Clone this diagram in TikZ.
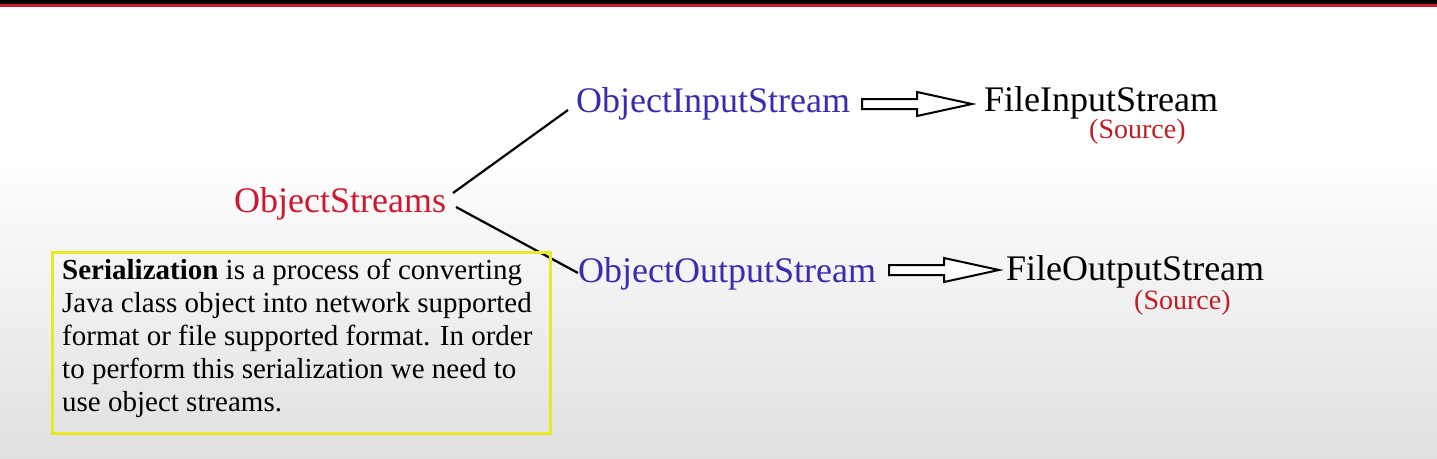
\documentclass[tikz,border=0pt]{standalone}
\usepackage{fontspec}
\setmainfont{Liberation Serif}
\definecolor{osblue}{RGB}{55,45,175}
\definecolor{osred}{RGB}{205,25,45}
\definecolor{srcred}{RGB}{190,30,35}
\definecolor{boxyellow}{RGB}{232,232,40}
\definecolor{bgbottom}{RGB}{224,224,224}
\tikzset{
  lbl/.style={inner sep=0pt, anchor=base west, font=\fontsize{36}{40}\selectfont},
  srclbl/.style={inner sep=0pt, anchor=base west, text=srcred, font=\fontsize{28}{32}\selectfont},
  branch/.style={line width=2.2pt, black},
  hollow/.style={draw=black, line width=2pt, fill=white, line join=miter},
  notebox/.style={draw=boxyellow, line width=3pt}
}
\newcommand{\hollowarrow}[1]{%
  \path[hollow,shift={(#1)}] (0,-5) -- (55,-5) -- (55,-12) -- (110,0) -- (55,12) -- (55,5) -- (0,5) -- cycle;}
\begin{document}
\begin{tikzpicture}[x=1pt,y=-1pt]
\useasboundingbox (0,0) rectangle (1437,458);
% background
\fill[white] (0,0) rectangle (1437,160);
\shade[top color=white, bottom color=bgbottom] (0,160) rectangle (1437,458);
\fill[black] (0,0) rectangle (1437,4);
\fill[osred] (0,4) rectangle (1437,6.5);
% labels
\node[lbl, text=osred] (os) at (234,212) {ObjectStreams};
\node[lbl, text=osblue] (ois) at (576,112) {ObjectInputStream};
\node[lbl, text=osblue] (oos) at (578,282) {ObjectOutputStream};
\node[lbl] (fis) at (984,111) {FileInputStream};
\node[lbl] (fos) at (1006,280) {FileOutputStream};
\node[srclbl] (src1) at (1089,138) {(Source)};
\node[srclbl] (src2) at (1134,309) {(Source)};
% branches
\coordinate (b1s) at (453,193);
\coordinate (b1e) at (568,110);
\coordinate (b2s) at (456,207);
\coordinate (b2e) at (578,273);
\draw[branch] (b1s) -- (b1e);
\draw[branch] (b2s) -- (b2e);
% hollow arrows
\coordinate (a1) at (862,104);
\coordinate (a2) at (889,270);
\hollowarrow{a1}
\hollowarrow{a2}
% note box
\draw[notebox] (52,252) rectangle (550,433);
\node[inner sep=0pt, anchor=base west, align=left, font=\fontsize{29}{33}\selectfont] (note) at (62,411)
{\textbf{Serialization} is a process of converting\\
Java class object into network supported\\
format or file supported format. In order\\
to perform this serialization we need to\\
use object streams.};
\end{tikzpicture}
\end{document}
